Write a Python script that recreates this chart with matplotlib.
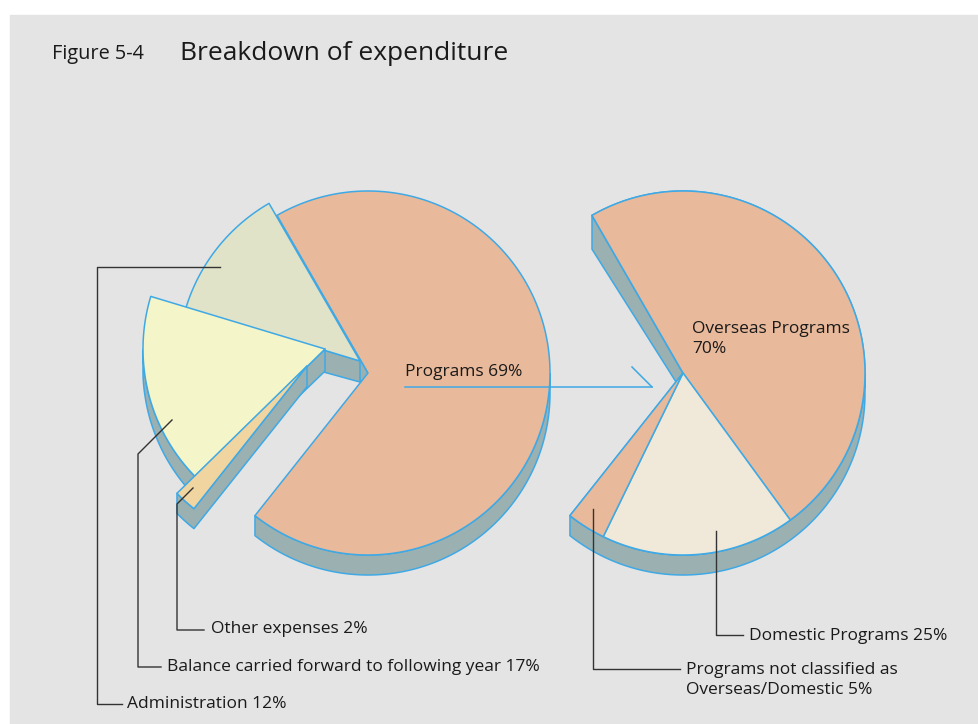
import numpy as np
import matplotlib.pyplot as plt
from matplotlib.patches import Polygon, Rectangle

# ── data ────────────────────────────────────────────────────────────────────
left_labels = ["Programs", "Administration",
               "Balance carried forward to following year", "Other expenses"]
left_values = [69, 12, 17, 2]

right_labels = ["Overseas Programs", "Domestic Programs",
                "Programs not classified as\nOverseas/Domestic"]
right_values = [70, 25, 5]

# ── style ───────────────────────────────────────────────────────────────────
BG = "#e4e4e4"
EDGE = "#3fa9e5"
SIDE = "#9bb0b0"
TXT = "#1a1a1a"
LEAD = "#333333"
left_colors = ["#e8b99a", "#e0e3c8", "#f4f5c8", "#f0d5a0"]
right_colors = ["#e8b99a", "#f0e8d8", "#e8b99a"]
FONT = "Open Sans"

W, H = 979, 724
R = 182
CY = 373
LC = (368, CY)
RC = (683, CY)
START = 120.0          # degrees, where Programs / Administration meet
# exploded offsets (pixels) for the small left slices
offsets = {"Programs": (0, 0), "Administration": (-8, -12),
           "Balance carried forward to following year": (-43, -24),
           "Other expenses": (-61, -7)}

fig = plt.figure(figsize=(W / 100, H / 100), dpi=100, facecolor="white")
ax = fig.add_axes([0, 0, 1, 1])
ax.set_xlim(0, W)
ax.set_ylim(H, 0)
ax.axis("off")
ax.add_patch(Rectangle((10, 15), W - 10, H - 15, color=BG, zorder=0))


def wedge(cx, cy, a1, a2, r=R):
    n = max(int(abs(a2 - a1)), 2)
    t = np.radians(np.linspace(a1, a2, n + 1))
    pts = [(cx, cy)] + [(cx + r * np.cos(a), cy - r * np.sin(a)) for a in t]
    return np.array(pts)


def depth(y):
    return 20 + 16 * max(0.0, CY - y) / R


def sides(pts, z):
    n = len(pts)
    area = 0.5 * sum(pts[i][0] * pts[(i + 1) % n][1] - pts[(i + 1) % n][0] * pts[i][1]
                     for i in range(n))
    vis = []
    for i in range(n):
        ex, ey = pts[(i + 1) % n] - pts[i]
        ny = -ex if area > 0 else ex
        vis.append(ny > 1e-9)
    if all(vis) or not any(vis):
        return
    for i in range(n):
        if vis[i] and not vis[i - 1]:
            run = [i]
            j = i + 1
            while vis[j % n]:
                run.append(j % n)
                j += 1
            top = [pts[k] for k in run] + [pts[(run[-1] + 1) % n]]
            bot = [(p[0], p[1] + depth(p[1])) for p in top[::-1]]
            ax.add_patch(Polygon(top + bot, closed=True, facecolor=SIDE,
                                 edgecolor=EDGE, lw=1.1, joinstyle="round", zorder=z))


def solid(pts, color, z, with_sides=True):
    if with_sides:
        sides(pts, z)
    ax.add_patch(Polygon(pts, closed=True, facecolor=color, edgecolor=EDGE,
                         lw=1.1, joinstyle="round", zorder=z + 0.5))


# ── left pie: going counter-clockwise from START: admin, balance, other, programs
order = [1, 2, 3, 0]
bounds = {}
a = START
for k in order:
    span = left_values[k] * 3.6
    bounds[k] = (a, a + span)
    a += span

for z, k in enumerate([0, 1, 2, 3]):
    a1, a2 = bounds[k]
    dx, dy = offsets[left_labels[k]]
    pts = wedge(LC[0] + dx, LC[1] + dy, a1, a2)
    solid(pts, left_colors[k], 2 + 2 * z)

# ── right pie: the Programs slice broken down, clockwise from START
p1, p2 = bounds[0]
solid(wedge(RC[0], RC[1], p1, p2), SIDE, 10)
a = p2
for k, v in enumerate(right_values):
    span = v / 100 * (p2 - p1)
    pts = wedge(RC[0], RC[1], a - span, a)
    ax.add_patch(Polygon(pts, closed=True, facecolor=right_colors[k], edgecolor=EDGE,
                         lw=1.1, joinstyle="round", zorder=11 + k))
    a -= span

# ── texts ───────────────────────────────────────────────────────────────────
ax.text(52, 54, "Figure 5-4", fontsize=14.3, family=FONT, color=TXT, va="center")
ax.text(180, 53, "Breakdown of expenditure", fontsize=19, family=FONT,
        color=TXT, va="center")

ax.text(405, 372, f"{left_labels[0]} {left_values[0]}%", fontsize=12.5, family=FONT,
        color=TXT, va="center", zorder=20)
ax.plot([405, 652], [387, 387], color=EDGE, lw=1.1, zorder=20)
ax.plot([632, 652], [367, 387], color=EDGE, lw=1.1, zorder=20)

ax.text(692, 339, f"{right_labels[0]}\n{right_values[0]}%", fontsize=12.5,
        family=FONT, color=TXT, va="center", linespacing=1.3, zorder=20)


def leader(xs, ys, label, tx, ty):
    ax.plot(xs, ys, color=LEAD, lw=1.0, zorder=20)
    ax.text(tx, ty, label, fontsize=12.5, family=FONT, color=TXT, va="center",
            linespacing=1.3, zorder=20)


leader([220, 97, 97, 122], [267, 267, 704, 704],
       f"{left_labels[1]} {left_values[1]}%", 127, 704)
leader([172, 138, 138, 161], [420, 454, 667, 667],
       f"{left_labels[2]} {left_values[2]}%", 167, 667)
leader([193, 177, 177, 204], [488, 504, 630, 630],
       f"{left_labels[3]} {left_values[3]}%", 211, 629)
leader([716, 716, 743], [531, 635, 635],
       f"{right_labels[1]} {right_values[1]}%", 749, 636)
leader([593, 593, 680], [509, 669, 669],
       f"{right_labels[2]} {right_values[2]}%", 686, 680)

fig.savefig("out.png", dpi=100, facecolor="white")
